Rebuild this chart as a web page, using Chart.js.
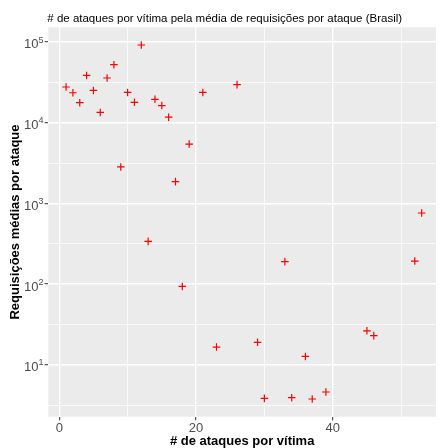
<!DOCTYPE html>
<html><head><meta charset="utf-8">
<script src="https://cdn.jsdelivr.net/npm/chart.js@4/dist/chart.umd.min.js"></script>
<style>html,body{margin:0;padding:0;background:#fff;overflow:hidden}</style>
</head><body>
<canvas id="c" width="441" height="448"></canvas>
<script>
// ---- data ----
const ataquesPorVitima = [1,2,3,4,5,6,7,8,9,10,11,12,13,14,15,16,17,18,19,21,23,26,29,30,33,34,36,37,39,45,46,52,53];
const requisicoesMedias = [27700,23500,17700,38500,25100,13400,35800,52300,2830,23700,17900,91800,338,19500,16300,11700,1860,93.5,5440,23700,16.6,29600,19.0,3.84,190,3.91,12.7,3.77,4.6,26.4,23.0,193,760];
const xTicks = [0,10,20,30,40,50];
const xTickLabels = ['0','','20','','40',''];
const yExponents = [0.5,1,1.5,2,2.5,3,3.5,4,4.5,5];
const yLabelExponents = ['1','2','3','4','5'];
const titulo = '# de ataques por vítima pela média de requisições por ataque (Brasil)';
const xTitulo = '# de ataques por vítima';
const yTitulo = 'Requisições médias por ataque';

const FONT = '"Liberation Sans", Arial, sans-serif';
const isMajorY = v => Math.abs(Math.log10(v) - Math.round(Math.log10(v))) < 1e-6;
const isMajorX = v => v % 20 === 0;

const panelPlugin = {
  id: 'panel',
  beforeDraw(chart) {
    const {ctx, chartArea: a} = chart;
    ctx.save();
    ctx.fillStyle = '#EBEBEB';
    ctx.fillRect(a.left, a.top, a.right - a.left, a.bottom - a.top);
    ctx.restore();
  },
  afterDraw(chart) {
    const {ctx, chartArea: a} = chart;
    const ys = chart.scales.y;
    ctx.save();
    // main title
    ctx.fillStyle = '#000';
    ctx.font = '11.5px ' + FONT;
    ctx.textAlign = 'left';
    ctx.textBaseline = 'alphabetic';
    ctx.fillText(titulo, a.left - 1, 21.7);
    // y tick labels 10^k
    ctx.fillStyle = '#4D4D4D';
    yLabelExponents.forEach(e => {
      const y = ys.getPixelForValue(Math.pow(10, +e));
      ctx.font = '9px ' + FONT;
      const ew = ctx.measureText(e).width;
      const right = 43.4;
      ctx.textAlign = 'left';
      ctx.fillText(e, right - ew, y + 0.6);
      ctx.font = '13px ' + FONT;
      ctx.textAlign = 'right';
      ctx.fillText('10', right - ew, y + 6.4);
    });
    // axis titles
    ctx.fillStyle = '#000';
    ctx.font = 'bold 13px ' + FONT;
    ctx.textAlign = 'center';
    ctx.fillText(xTitulo, (a.left + a.right) / 2, 445);
    ctx.translate(18.5, (a.top + a.bottom) / 2);
    ctx.rotate(-Math.PI / 2);
    ctx.fillText(yTitulo, 0, 0);
    ctx.restore();
  }
};

new Chart(document.getElementById('c'), {
  type: 'scatter',
  data: {
    datasets: [{
      data: ataquesPorVitima.map((x, i) => ({x, y: requisicoesMedias[i]})),
      pointStyle: 'cross',
      pointRadius: 3.8,
      pointHoverRadius: 3.8,
      borderColor: '#FF0000',
      backgroundColor: '#FF0000',
      pointBorderWidth: 1.2
    }]
  },
  options: {
    responsive: false,
    devicePixelRatio: 1,
    animation: false,
    events: [],
    layout: {padding: {top: 27.3, right: 0, left: 0, bottom: 0}},
    plugins: {legend: {display: false}, tooltip: {enabled: false}, title: {display: false}},
    scales: {
      x: {
        type: 'linear',
        min: -1.6,
        max: 55.1,
        afterBuildTicks: s => { s.ticks = xTicks.map(v => ({value: v})); },
        afterFit: s => { s.height = 31.3; },
        border: {display: false},
        grid: {
          color: '#FFFFFF',
          lineWidth: c => isMajorX(c.tick.value) ? 1.4 : 0.7,
          drawTicks: true,
          tickLength: 3.7,
          tickWidth: 1,
          tickColor: c => isMajorX(c.tick.value) ? '#333333' : 'rgba(0,0,0,0)'
        },
        ticks: {
          color: '#4D4D4D',
          font: {family: FONT, size: 13},
          padding: 0,
          maxRotation: 0,
          autoSkip: false,
          callback: (v, i) => xTickLabels[i]
        }
      },
      y: {
        type: 'logarithmic',
        min: Math.pow(10, 0.357),
        max: Math.pow(10, 5.182),
        afterBuildTicks: s => { s.ticks = yExponents.map(e => ({value: Math.pow(10, e)})); },
        afterFit: s => { s.width = 48.3; },
        border: {display: false},
        grid: {
          color: '#FFFFFF',
          lineWidth: c => isMajorY(c.tick.value) ? 1.4 : 0.7,
          drawTicks: true,
          tickLength: 3.7,
          tickWidth: 1,
          tickColor: c => isMajorY(c.tick.value) ? '#333333' : 'rgba(0,0,0,0)'
        },
        ticks: {
          color: 'rgba(0,0,0,0)',
          font: {family: FONT, size: 12},
          autoSkip: false,
          callback: () => ''
        }
      }
    }
  },
  plugins: [panelPlugin]
});
</script>
</body></html>
